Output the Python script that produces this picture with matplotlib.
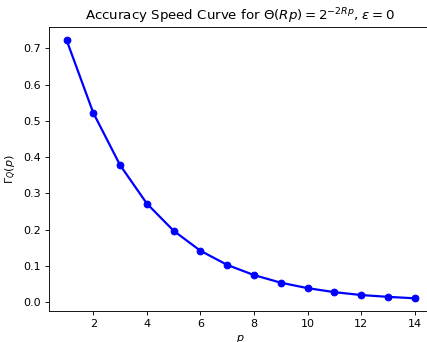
import numpy as np
import matplotlib
matplotlib.use("Agg")
import matplotlib.pyplot as plt

# values
p_values = [1, 2, 3, 4, 5, 6, 7, 8, 9, 10, 11, 12, 13, 14]
gamma_q = [0.723, 0.522, 0.378, 0.272, 0.197, 0.142, 0.103, 0.075,
           0.054, 0.039, 0.028, 0.020, 0.015, 0.011]

fig = plt.figure(figsize=(427 / 80, 342 / 80), dpi=80)
# right edge of the axes sits just past the image border, as in the cropped original
ax = fig.add_axes([0.115, 0.09, 0.897, 0.831])

ax.plot(p_values, gamma_q, 'o-', color='blue', linewidth=2, markersize=6)
ax.set_xlabel('$p$')
ax.set_ylabel(r'$\Gamma_Q(p)$')
ax.set_title(r'Accuracy Speed Curve for $\Theta(Rp) = 2^{-2Rp}$, $\varepsilon = 0$')

fig.savefig('out.png', dpi=80)
